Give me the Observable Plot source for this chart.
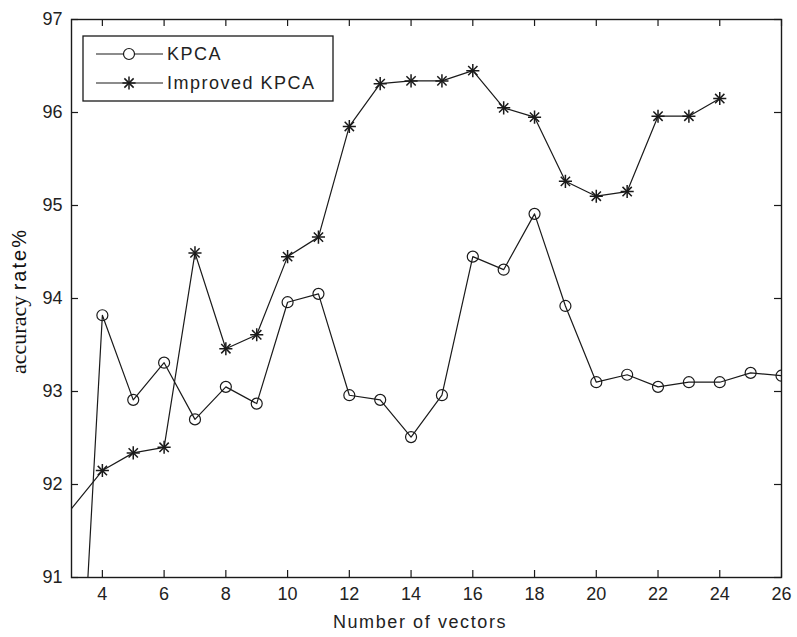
<!DOCTYPE html>
<html>
<head>
<meta charset="utf-8">
<script src="https://cdn.jsdelivr.net/npm/d3@7"></script>
<script src="https://cdn.jsdelivr.net/npm/@observablehq/plot@0.6"></script>
<style>
  body { margin: 0; background: #fff; }
  #chart svg { display: block; }
</style>
</head>
<body>
<div id="chart"></div>
<script>
// ---- data ----
const vectors = [3,4,5,6,7,8,9,10,11,12,13,14,15,16,17,18,19,20,21,22,23,24,25,26];
const kpca = [87.8, 93.82, 92.91, 93.31, 92.70, 93.05, 92.87, 93.96, 94.05, 92.96, 92.91, 92.51,
              92.96, 94.45, 94.31, 94.91, 93.92, 93.10, 93.18, 93.05, 93.10, 93.10, 93.20, 93.17];
const improvedVectors = [3,4,5,6,7,8,9,10,11,12,13,14,15,16,17,18,19,20,21,22,23,24];
const improved = [91.74, 92.15, 92.34, 92.40, 94.49, 93.46, 93.61, 94.45, 94.66, 95.85, 96.31,
                  96.34, 96.34, 96.45, 96.05, 95.95, 95.26, 95.10, 95.15, 95.96, 95.96, 96.15];
const xTicks = [4,6,8,10,12,14,16,18,20,22,24,26];
const yTicks = [91,92,93,94,95,96,97];
const seriesNames = ["KPCA", "Improved KPCA"];
const xLabel = "Number of vectors";
const yLabelA = "accuracy ";
const yLabelB = "rate%";

const kTable = vectors.map((x, i) => ({x, y: kpca[i]}));
const iTable = improvedVectors.map((x, i) => ({x, y: improved[i]}));

const W = 797, H = 637;
const mL = 71, mR = 16, mT = 19, mB = 60;
const innerW = W - mL - mR, innerH = H - mT - mB;
const tick = 7;
const ink = "#1a1a1a";
const sans = "'Liberation Sans', Arial, sans-serif";
const serif = "'Liberation Serif', 'Times New Roman', serif";

const plot = Plot.plot({
  width: W, height: H,
  marginLeft: mL, marginRight: mR, marginTop: mT, marginBottom: mB,
  style: {fontFamily: sans, fontSize: "18px", color: ink, background: "#fff"},
  x: {domain: [3, 26]},
  y: {domain: [91, 97]},
  marks: [
    Plot.axisX({ticks: xTicks, tickSize: 0, tickPadding: 10, tickFormat: d => String(d), label: null, fontSize: 18, fill: "#222"}),
    Plot.axisY({ticks: yTicks, tickSize: 0, tickPadding: 9, tickFormat: d => String(d), label: null, fontSize: 18, fill: "#222"}),
    // inward tick marks
    Plot.ruleX(xTicks, {x: d => d, insetTop: innerH - tick, stroke: ink, strokeWidth: 1.2}),
    Plot.ruleX(xTicks, {x: d => d, insetBottom: innerH - tick, stroke: ink, strokeWidth: 1.2}),
    Plot.ruleY(yTicks, {y: d => d, insetRight: innerW - tick, stroke: ink, strokeWidth: 1.2}),
    Plot.ruleY(yTicks, {y: d => d, insetLeft: innerW - tick, stroke: ink, strokeWidth: 1.2}),
    Plot.frame({stroke: ink, strokeWidth: 1.4}),
    // KPCA
    Plot.line(kTable, {x: "x", y: "y", stroke: ink, strokeWidth: 1.2, clip: true}),
    Plot.dot(kTable, {x: "x", y: "y", filter: d => d.x >= 4, symbol: "circle", r: 5.5, stroke: ink, strokeWidth: 1.2, fill: "none", clip: true}),
    // Improved KPCA
    Plot.line(iTable, {x: "x", y: "y", stroke: ink, strokeWidth: 1.2, clip: true}),
    Plot.dot(iTable, {x: "x", y: "y", filter: d => d.x >= 4, symbol: "plus", r: 4.3, stroke: ink, strokeWidth: 1.5, clip: true}),
    Plot.dot(iTable, {x: "x", y: "y", filter: d => d.x >= 4, symbol: "times", r: 4.3, stroke: ink, strokeWidth: 1.5, clip: true})
  ]
});

document.getElementById("chart").appendChild(plot);

const svg = d3.select(plot);

// y label (mixed fonts, as in the reference)
const yl = svg.append("text")
  .attr("transform", `translate(26,301) rotate(-90)`)
  .style("text-anchor", "middle")
  .style("fill", "#111");
yl.append("tspan").style("font-family", serif).style("font-size", "22px").text(yLabelA);
yl.append("tspan").style("font-family", sans).style("font-size", "20px").style("letter-spacing", "2px").text(yLabelB);

// x label
svg.append("text")
  .attr("x", 420).attr("y", 628)
  .style("text-anchor", "middle")
  .style("font-family", sans)
  .style("font-size", "18px").style("letter-spacing", "1.6px")
  .style("fill", "#222")
  .text(xLabel);

// legend
const lg = svg.append("g");
lg.append("rect").attr("x", 83).attr("y", 36).attr("width", 250).attr("height", 65)
  .attr("fill", "#fff").attr("stroke", ink).attr("stroke-width", 1.3);
const rows = [54, 83];
rows.forEach((yy, i) => {
  lg.append("line").attr("x1", 96).attr("x2", 163).attr("y1", yy).attr("y2", yy).attr("stroke", ink).attr("stroke-width", 1.2);
  if (i === 0) {
    lg.append("circle").attr("cx", 129).attr("cy", yy).attr("r", 5.5).attr("fill", "#fff").attr("stroke", ink).attr("stroke-width", 1.2);
  } else {
    lg.append("path").attr("d", d3.symbol(d3.symbolPlus, Math.PI * 4.3 * 4.3)()).attr("transform", `translate(129,${yy})`).attr("fill", "none").attr("stroke", ink).attr("stroke-width", 1.5);
    lg.append("path").attr("d", d3.symbol(d3.symbolTimes, Math.PI * 4.3 * 4.3)()).attr("transform", `translate(129,${yy})`).attr("fill", "none").attr("stroke", ink).attr("stroke-width", 1.5);
  }
  lg.append("text").attr("x", 167).attr("y", yy).attr("dy", "0.35em")
    .style("text-anchor", "start")
    .style("font-family", sans).style("font-size", "18px").style("letter-spacing", "1.5px")
    .style("fill", "#222").text(seriesNames[i]);
});
</script>
</body>
</html>
